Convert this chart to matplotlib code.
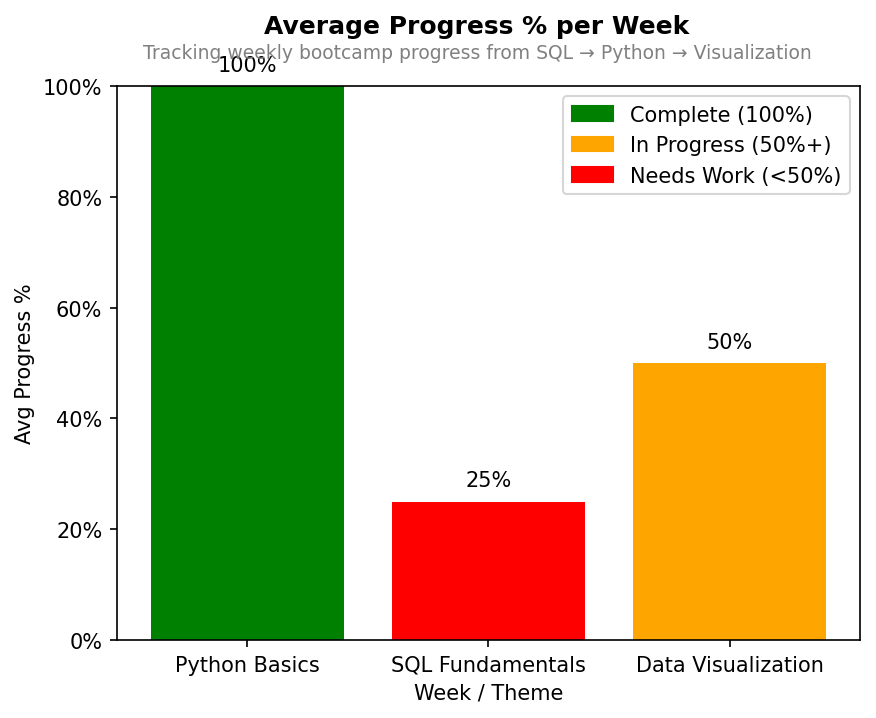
import numpy as np
import matplotlib.pyplot as plt
from matplotlib.patches import Patch
from matplotlib.ticker import PercentFormatter

themes = ['Python Basics', 'SQL Fundamentals', 'Data Visualization']
progress = [100, 25, 50]

def bar_color(p):
    if p >= 100:
        return 'green'
    elif p >= 50:
        return 'orange'
    return 'red'

colors = [bar_color(p) for p in progress]

fig = plt.figure(figsize=(5.84, 4.793), dpi=150)
ax = fig.add_axes([0.1335, 0.1085, 0.8482, 0.7705])
x = np.arange(len(themes))
bars = ax.bar(x, progress, color=colors)
for b, p in zip(bars, progress):
    ax.text(b.get_x() + b.get_width() / 2, p + 2, f'{p}%', ha='center', va='bottom', fontsize=10)

ax.set_xticks(x)
ax.set_xticklabels(themes)
ax.set_ylim(0, 100)
ax.yaxis.set_major_formatter(PercentFormatter(decimals=0))
ax.set_xlabel('Week / Theme')
ax.set_ylabel('Avg Progress %')

fig.text(0.5445, 0.963, 'Average Progress % per Week', ha='center', va='center',
         fontsize=12, fontweight='bold')
fig.text(0.5445, 0.926, 'Tracking weekly bootcamp progress from SQL \u2192 Python \u2192 Visualization',
         ha='center', va='center', fontsize=9, color='gray')

handles = [Patch(color='green', label='Complete (100%)'),
           Patch(color='orange', label='In Progress (50%+)'),
           Patch(color='red', label='Needs Work (<50%)')]
ax.legend(handles=handles, loc='upper right')

fig.savefig('out.png', dpi=150)
